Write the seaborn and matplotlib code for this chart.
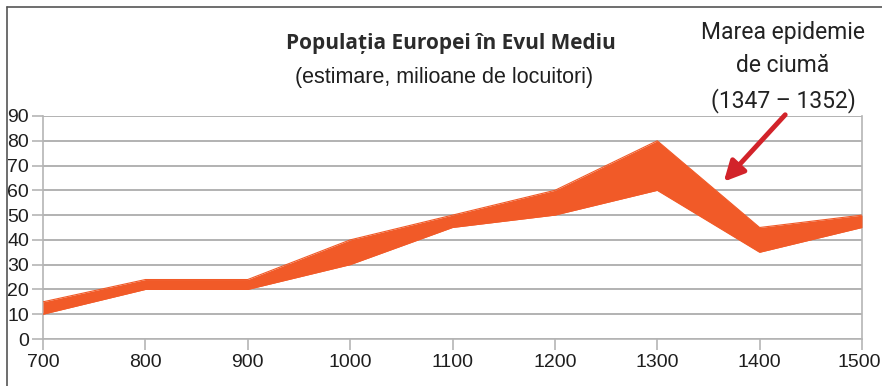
import matplotlib
matplotlib.use("Agg")
import matplotlib.pyplot as plt
import matplotlib.transforms as mtransforms
import seaborn as sns
import pandas as pd
from matplotlib.lines import Line2D

# Estimated population of Europe (millions): lower and upper bounds
years = [700, 800, 900, 1000, 1100, 1200, 1300, 1400, 1500]
lower = [10, 20, 20, 30, 45, 50, 60, 35, 45]
upper = [15, 24, 24, 40, 50, 60, 80, 45, 50]
y_ticks = [0, 10, 20, 30, 40, 50, 60, 70, 80, 90]

title = "Populația Europei în Evul Mediu"
subtitle = "(estimare, milioane de locuitori)"
note = "Marea epidemie\nde ciumă\n(1347 – 1352)"

sns.set_theme(style="white")
plt.rcParams["font.family"] = ["Liberation Sans", "DejaVu Sans"]

df = pd.DataFrame({"an": years, "min": lower, "max": upper})
band = "#f15a28"
grid = "#a6a6a6"

fig = plt.figure(figsize=(8.82, 3.86), dpi=100)
ax = fig.add_axes([43 / 882, 47 / 386, 819 / 882, 223 / 386])

ax.fill_between(df["an"], df["min"], df["max"], color=band, lw=0, zorder=3)
sns.lineplot(data=df, x="an", y="min", ax=ax, color=band, lw=0.8, zorder=3)
sns.lineplot(data=df, x="an", y="max", ax=ax, color=band, lw=0.8, zorder=3)

ax.set_xlim(700, 1500)
ax.set_ylim(0, 90)
ax.set_xticks(years)
ax.set_yticks(y_ticks)
ax.set_xlabel("")
ax.set_ylabel("")
for y in y_ticks:
    ax.axhline(y, color=grid, lw=1.2, zorder=1)
for side in ["left", "right", "bottom"]:
    ax.spines[side].set_color("#b5b5b5")
    ax.spines[side].set_linewidth(1.2)
ax.spines["top"].set_visible(False)
ax.tick_params(axis="both", which="major", length=8, width=1.2, color="#b5b5b5",
               labelsize=14, labelcolor="#1e1e1e")
ax.tick_params(axis="x", pad=3, bottom=True)
ax.tick_params(axis="y", pad=2, left=True)

# keep the last year label inside the figure edge
fig.canvas.draw()
last = ax.get_xticklabels()[-1]
last.set_transform(last.get_transform() +
                   mtransforms.ScaledTranslation(-3 / 100, 0, fig.dpi_scale_trans))

# Outer frame (top and left edges)
fig.add_artist(Line2D([7 / 882, 7 / 882], [0, 1 - 7 / 386], transform=fig.transFigure,
                      color="#555555", lw=1.2))
fig.add_artist(Line2D([7 / 882, 1], [1 - 7 / 386, 1 - 7 / 386], transform=fig.transFigure,
                      color="#555555", lw=1.2))

fig.text(451 / 882, 1 - 44 / 386, title, ha="center", va="center", fontsize=15,
         fontweight="bold", color="#2b2b2b", family=["Open Sans", "DejaVu Sans"])
fig.text(444 / 882, 1 - 78 / 386, subtitle, ha="center", va="center", fontsize=15.5,
         color="#1e1e1e")
fig.text(783 / 882, 1 - 67 / 386, note, ha="center", va="center", fontsize=16.5,
         color="#222222", linespacing=1.55,
         family=["Liberation Sans Narrow", "Roboto", "DejaVu Sans"])

ax.annotate("", xy=(1365, 63.5), xytext=(1425, 90.5), annotation_clip=False,
            arrowprops=dict(arrowstyle="-|>,head_length=1.0,head_width=0.5",
                            color="#d2232a", lw=3.5, shrinkA=0, shrinkB=0), zorder=5)

fig.savefig("out.png", dpi=100, facecolor="white")
